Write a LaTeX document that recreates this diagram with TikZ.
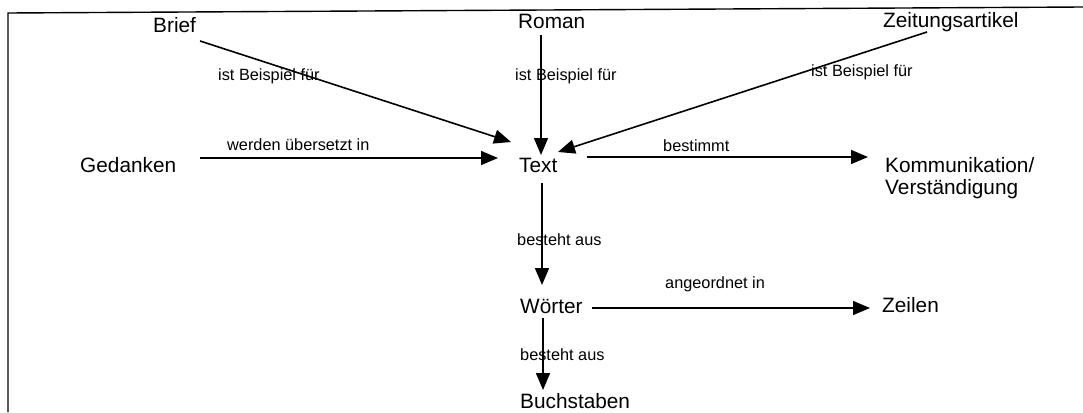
\documentclass[tikz,border=0pt]{standalone}
\usepackage{fontspec}
\setmainfont{Liberation Sans}
\usetikzlibrary{arrows.meta,calc}
\begin{document}
\begin{tikzpicture}[x=1pt,y=-1pt,
  concept/.style={inner sep=0pt,anchor=base west,font=\fontsize{20.8}{22}\selectfont},
  lbl/.style={inner sep=0pt,anchor=base west,font=\fontsize{16.3}{18}\selectfont},
  arr/.style={line width=1.6pt,-{Triangle[length=17pt,width=14pt]}},
  frame/.style={line width=1.4pt}]
\useasboundingbox (0,0) rectangle (1083,412);
\coordinate (fl) at (8,412);
\coordinate (ftl) at (8,13);
\coordinate (ftr) at (1083,7);
\draw[frame] (fl) -- (ftl) -- (ftr);

\node[concept] (brief) at (153,33) {Brief};
\node[concept] (roman) at (518,29) {Roman};
\node[concept] (zeit) at (883,28) {Zeitungsartikel};
\node[concept] (ged) at (80,172) {Gedanken};
\node[concept] (text) at (519,172) {Text};
\node[concept] (komm) at (885,172) {\begin{tabular}[t]{@{}l@{}}Kommunikation/\\Verständigung\end{tabular}};
\node[concept] (woe) at (520,313) {Wörter};
\node[concept] (zei) at (882,312) {Zeilen};
\node[concept] (buch) at (520,408) {Buchstaben};

\draw[arr] ($(brief.base west)+(47,8)$) -- ($(text.base west)+(-8,-30)$);
\draw[arr] ($(roman.base west)+(23,6)$) -- ($(text.base west)+(22,-17)$);
\draw[arr] ($(zeit.base west)+(44,4)$) -- ($(text.base west)+(39,-20)$);
\draw[arr] ($(ged.base west)+(120,-14)$) -- ($(text.base west)+(-21,-14)$);
\draw[arr] ($(text.base west)+(68,-15)$) -- ($(komm.base west)+(-17,-15)$);
\draw[arr] ($(text.base west)+(23,11)$) -- ($(woe.base west)+(22,-28)$);
\draw[arr] ($(woe.base west)+(72,-5)$) -- ($(zei.base west)+(-12,-4)$);
\draw[arr] ($(woe.base west)+(23,5)$) -- ($(buch.base west)+(23,-18)$);

\node[lbl] (l1) at (218,81) {ist Beispiel für};
\node[lbl] (l2) at (515,81) {ist Beispiel für};
\node[lbl] (l3) at (811,77) {ist Beispiel für};
\node[lbl] (l4) at (227,150) {werden übersetzt in};
\node[lbl] (l5) at (663,151) {bestimmt};
\node[lbl] (l6) at (517,245) {besteht aus};
\node[lbl] (l7) at (665,288) {angeordnet in};
\node[lbl] (l8) at (520,360) {besteht aus};
\end{tikzpicture}
\end{document}
